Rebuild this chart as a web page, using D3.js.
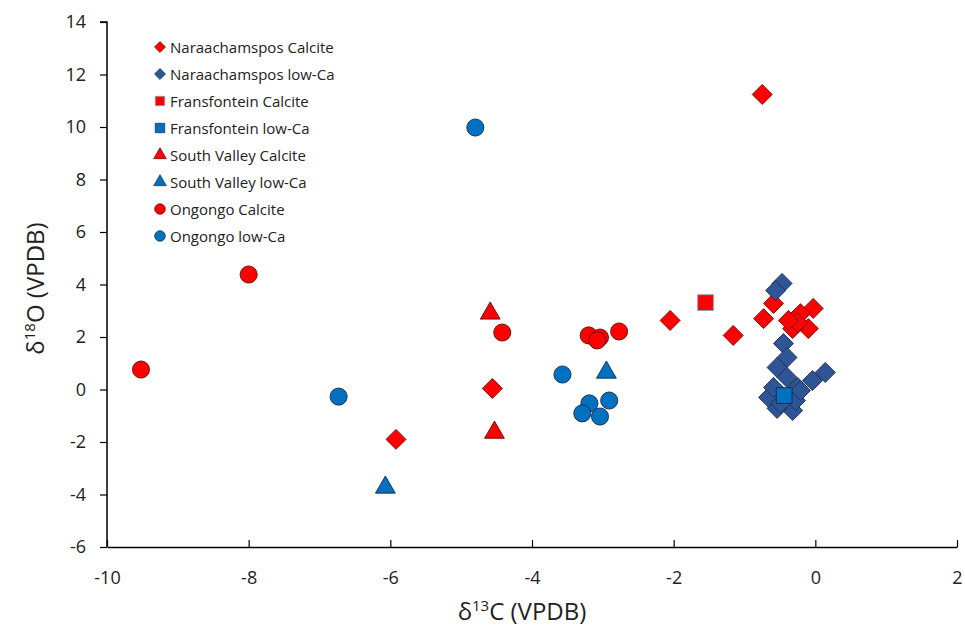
<!DOCTYPE html>
<html>
<head>
<meta charset="utf-8">
<script src="https://cdn.jsdelivr.net/npm/d3@7.9.0/dist/d3.min.js"></script>
<style>
  body { margin: 0; background: #fff; }
  svg { display: block; font-family: "Open Sans", "Liberation Sans", sans-serif; }
</style>
</head>
<body>
<svg id="chart"></svg>
<script>
const width = 965;
const height = 630;

// Data: [δ13C, δ18O]
const naraCalcite = [[-0.75, 11.24], [-5.92, -1.90], [-4.56, 0.04], [-2.05, 2.63], [-1.16, 2.06],
  [-0.73, 2.70], [-0.59, 3.28], [-0.03, 3.09], [-0.28, 2.70], [-0.10, 2.32], [-0.32, 2.32],
  [-0.21, 2.89], [-0.25, 2.55], [-0.38, 2.63]];
const naraLowCa = [[-0.47, 4.04], [-0.56, 3.77], [-0.45, 1.75], [-0.40, 1.22], [-0.54, 0.84],
  [0.14, 0.65], [-0.04, 0.34], [-0.66, -0.30], [-0.40, 0.46], [-0.25, 0.08], [-0.32, -0.80],
  [-0.54, -0.72], [-0.59, 0.08], [-0.28, -0.42], [-0.49, -0.53], [-0.21, -0.04]];
const fransCalcite = [[-1.55, 3.31]];
const fransLowCa = [[-0.44, -0.23]];
const southCalcite = [[-4.59, 2.90], [-4.53, -1.64]];
const southLowCa = [[-2.95, 0.65], [-6.07, -3.73]];
const ongCalcite = [[-9.52, 0.76], [-8.00, 4.38], [-4.42, 2.17], [-3.20, 2.06], [-3.04, 1.98],
  [-3.08, 1.87], [-2.77, 2.21]];
const ongLowCa = [[-4.80, 9.98], [-6.73, -0.27], [-3.57, 0.57], [-3.19, -0.53], [-2.91, -0.42],
  [-3.29, -0.91], [-3.04, -1.03]];

const seriesNames = ["Naraachamspos Calcite", "Naraachamspos low-Ca", "Fransfontein Calcite",
  "Fransfontein low-Ca", "South Valley Calcite", "South Valley low-Ca", "Ongongo Calcite", "Ongongo low-Ca"];
const seriesData = [naraCalcite, naraLowCa, fransCalcite, fransLowCa, southCalcite, southLowCa, ongCalcite, ongLowCa];

const xTicks = [-10, -8, -6, -4, -2, 0, 2];
const yTicks = [-6, -4, -2, 0, 2, 4, 6, 8, 10, 12, 14];

// marker styling per series
const styles = [
  { shape: "diamond", fill: "#ff0000", stroke: "#7a1010", size: 200, lsize: 60 },
  { shape: "diamond", fill: "#2f5597", stroke: "#1f2f50", size: 200, lsize: 60 },
  { shape: "square", fill: "#ff0000", stroke: "#8ea0c8", size: 250, lsize: 90 },
  { shape: "square", fill: "#0070c0", stroke: "#1a2a40", size: 250, lsize: 90 },
  { shape: "triangle", fill: "#ff0000", stroke: "#5a1010", size: 170, lsize: 70 },
  { shape: "triangle", fill: "#0070c0", stroke: "#1a2a40", size: 170, lsize: 70 },
  { shape: "circle", fill: "#ff0000", stroke: "#5a1010", size: 230, lsize: 90 },
  { shape: "circle", fill: "#0070c0", stroke: "#1a2a40", size: 230, lsize: 90 }
];

const symbolType = { diamond: d3.symbolSquare, square: d3.symbolSquare, triangle: d3.symbolTriangle, circle: d3.symbolCircle };

const margin = { top: 22, right: 8, bottom: 83, left: 107 };

const svg = d3.select("#chart").attr("width", width).attr("height", height);

const x = d3.scaleLinear().domain([-10, 2]).range([margin.left, width - margin.right]);
const y = d3.scaleLinear().domain([-6, 14]).range([height - margin.bottom, margin.top]);

const fmt = d => String(d); // plain hyphen minus, like the reference

// y axis (ticks outside)
const yAxis = svg.append("g")
    .attr("transform", `translate(${margin.left},0)`)
    .call(d3.axisLeft(y).tickValues(yTicks).tickFormat(fmt).tickSize(7).tickPadding(14));

// x axis (ticks pointing up into the plot)
const xAxis = svg.append("g")
    .attr("transform", `translate(0,${height - margin.bottom})`)
    .call(d3.axisBottom(x).tickValues(xTicks).tickFormat(fmt).tickSizeInner(-7).tickSizeOuter(0).tickPadding(24));

[xAxis, yAxis].forEach(ax => {
    ax.select(".domain").attr("stroke", "#000").attr("stroke-width", 1.5);
    ax.selectAll(".tick line").attr("stroke", "#000").attr("stroke-width", 1.2);
    ax.selectAll(".tick text")
        .attr("fill", "#222")
        .style("font-size", "18px")
        .style("font-family", "'Open Sans', sans-serif");
});
xAxis.selectAll(".tick text").style("font-family", "'Liberation Sans Narrow', 'Open Sans', sans-serif").style("font-size", "18px");
yAxis.select(".domain").attr("d", `M-7,${y(14)}H0V${y(-6)}`);

// axis titles
const xTitle = svg.append("text")
    .attr("x", x(-4) - 10)
    .attr("y", 620)
    .attr("text-anchor", "middle")
    .attr("fill", "#222")
    .style("font-size", "24px")
    .style("font-family", "'Liberation Sans Narrow', 'Open Sans', sans-serif");
xTitle.append("tspan").text("δ");
xTitle.append("tspan").attr("dy", -9).style("font-size", "15px").text("13");
xTitle.append("tspan").attr("dy", 9).text("C (VPDB)");

const yTitle = svg.append("text")
    .attr("transform", `translate(44,${y(4) + 4}) rotate(-90)`)
    .attr("text-anchor", "middle")
    .attr("fill", "#222")
    .style("font-size", "24px");
yTitle.append("tspan").text("δ");
yTitle.append("tspan").attr("dy", -9).style("font-size", "15px").text("18");
yTitle.append("tspan").attr("dy", 9).text("O (VPDB)");

function symbolPath(st, size) {
    return d3.symbol().type(symbolType[st.shape]).size(size)();
}
function rot(st) { return st.shape === "diamond" ? " rotate(45)" : ""; }

// points
seriesData.forEach((data, i) => {
    const st = styles[i];
    svg.append("g").selectAll("path")
        .data(data)
        .join("path")
        .attr("d", symbolPath(st, st.size))
        .attr("transform", d => `translate(${x(d[0])},${y(d[1])})` + rot(st))
        .attr("fill", st.fill)
        .attr("stroke", st.stroke)
        .attr("stroke-width", 0.9);
});

// legend
const legend = svg.append("g").attr("transform", "translate(160,47)");
seriesNames.forEach((name, i) => {
    const st = styles[i];
    const row = legend.append("g").attr("transform", `translate(0,${i * 27})`);
    row.append("path")
        .attr("d", symbolPath(st, st.lsize))
        .attr("transform", "translate(0,0)" + rot(st))
        .attr("fill", st.fill)
        .attr("stroke", st.stroke)
        .attr("stroke-width", 0.7);
    row.append("text")
        .attr("x", 10)
        .attr("y", 5.5)
        .attr("fill", "#222")
        .style("font-size", "15px")
        .text(name);
});
</script>
</body>
</html>
